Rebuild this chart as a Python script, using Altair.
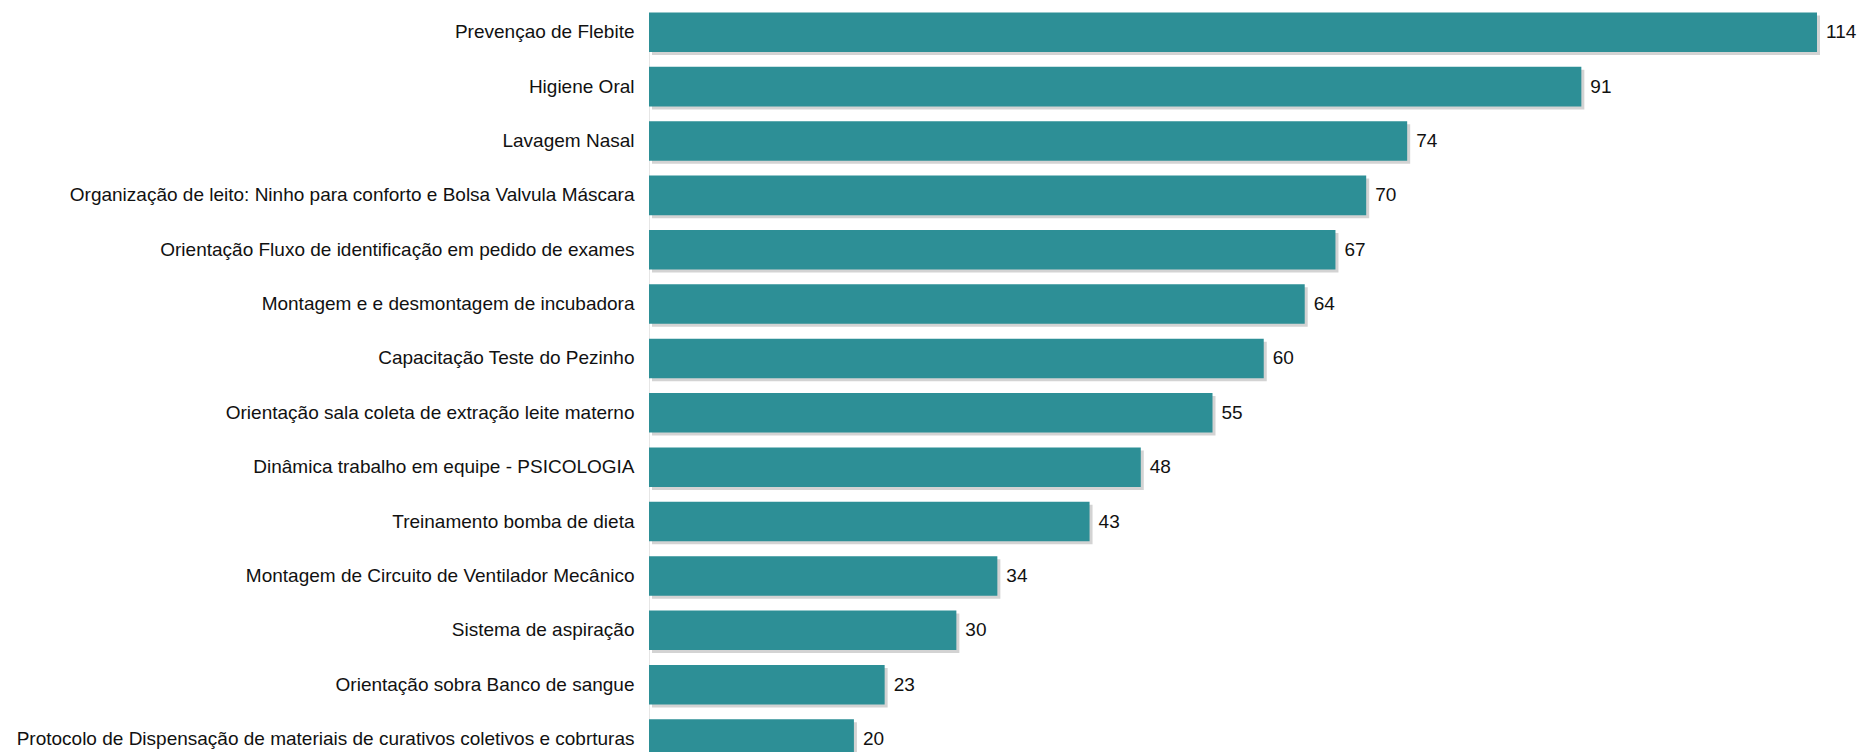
import altair as alt
import pandas as pd

categories = [
    "Prevençao de Flebite",
    "Higiene Oral",
    "Lavagem Nasal",
    "Organização de leito: Ninho para conforto e Bolsa Valvula Máscara",
    "Orientação Fluxo de identificação em pedido de exames",
    "Montagem e e desmontagem de incubadora",
    "Capacitação Teste do Pezinho",
    "Orientação sala coleta de extração leite materno",
    "Dinâmica trabalho em equipe - PSICOLOGIA",
    "Treinamento bomba de dieta",
    "Montagem de Circuito de Ventilador Mecânico",
    "Sistema de aspiração",
    "Orientação sobra Banco de sangue",
    "Protocolo de Dispensação de materiais de curativos coletivos e cobrturas",
]
values = [114, 91, 74, 70, 67, 64, 60, 55, 48, 43, 34, 30, 23, 20]

df = pd.DataFrame({"atividade": categories, "total": values})

W = 1210
H = 744
FONT = "Liberation Sans"

xscale = alt.Scale(domain=[0, 118.1], nice=False, zero=True)
yscale = alt.Scale(domain=categories, range=[4.5, 750.8], paddingInner=0.273, paddingOuter=0)

x_enc = alt.X("total:Q", scale=xscale, axis=None)
y_enc = alt.Y(
    "atividade:N",
    sort=None,
    scale=yscale,
    axis=alt.Axis(
        title=None,
        labelFontSize=19,
        labelFont=FONT,
        labelColor="#111111",
        labelPadding=15,
        ticks=False,
        domainColor="#e6e6e6",
        domainWidth=1,
        labelLimit=0,
        grid=False,
    ),
)

base = alt.Chart(df)
shadow = base.mark_bar(color="#808080", opacity=0.35, xOffset=3, yOffset=3).encode(x=x_enc, y=y_enc)
bars = base.mark_bar(color="#2D8F96").encode(x=x_enc, y=y_enc)
text = base.mark_text(align="left", dx=9, fontSize=19, font=FONT, color="#111111").encode(
    x=x_enc, y=y_enc, text="total:Q"
)

chart = (
    alt.layer(shadow, bars, text)
    .properties(
        width=W,
        height=H,
        autosize=alt.AutoSizeParams(type="none"),
        padding={"left": 641, "top": 0, "right": 0, "bottom": 0},
        background="white",
    )
    .configure_view(stroke=None)
)

chart.save("out.html", embed_options={"renderer": "svg", "actions": False})
